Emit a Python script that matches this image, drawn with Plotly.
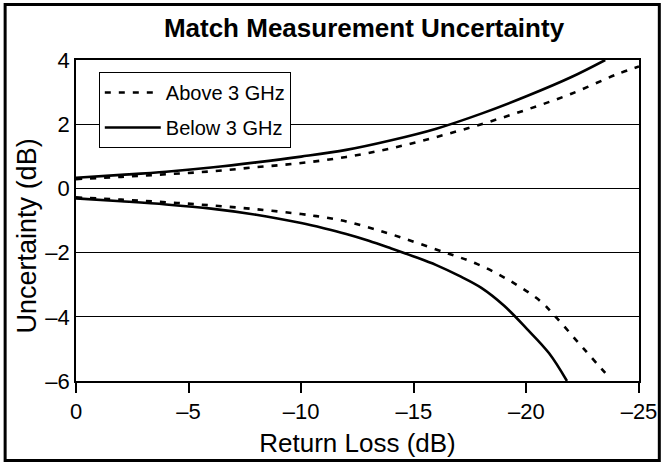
import plotly.graph_objects as go

# Return loss (dB) sample points and read-off uncertainty values (dB)
below_upper_x = [0, -2, -4, -6, -8, -10, -12, -14, -16, -18, -20, -22, -23.5]
below_upper_y = [0.33, 0.42, 0.52, 0.65, 0.81, 0.99, 1.2, 1.5, 1.86, 2.33, 2.87, 3.47, 4.0]

above_upper_x = [0, -2, -4, -6, -8, -10, -12, -14, -16, -18, -20, -22, -24, -25]
above_upper_y = [0.29, 0.36, 0.44, 0.53, 0.66, 0.79, 0.98, 1.25, 1.6, 2.0, 2.45, 2.95, 3.55, 3.8]

below_lower_x = [0, -2, -4, -6, -8, -10, -11, -12, -13, -14, -15, -16, -17, -18, -19, -20, -21, -21.8]
below_lower_y = [-0.31, -0.4, -0.5, -0.63, -0.82, -1.08, -1.24, -1.42, -1.63, -1.87, -2.12, -2.39, -2.72, -3.1, -3.65, -4.36, -5.13, -6.0]

above_lower_x = [0, -2, -4, -6, -8, -10, -11, -12, -13, -14, -16.4, -17.8, -19.25, -20.6, -21.3, -22.3, -23.5]
above_lower_y = [-0.28, -0.35, -0.43, -0.53, -0.65, -0.8, -0.9, -1.03, -1.22, -1.43, -2.0, -2.35, -2.87, -3.5, -4.0, -4.8, -5.75]

x_ticks = [0, -5, -10, -15, -20, -25]
x_tick_text = ["0", "\u20135", "\u201310", "\u201315", "\u201320", "\u201325"]
y_ticks = [4, 2, 0, -2, -4, -6]
y_tick_text = ["4", "2", "0", "\u20132", "\u20134", "\u20136"]

FONT = "Liberation Sans, Arial, sans-serif"
W, H = 669, 465
L, R, T, B = 76, 25, 60, 84
PW, PH = W - L - R, H - T - B

dash_style = dict(color="black", width=2.6, dash="6px,8px")
solid_style = dict(color="black", width=2.6)

fig = go.Figure()
fig.add_trace(go.Scatter(x=above_upper_x, y=above_upper_y, mode="lines", name="Above 3 GHz",
                         line=dict(shape="spline", **dash_style), legendgroup="a"))
fig.add_trace(go.Scatter(x=below_upper_x, y=below_upper_y, mode="lines", name="Below 3 GHz",
                         line=dict(shape="spline", **solid_style), legendgroup="b"))
fig.add_trace(go.Scatter(x=above_lower_x, y=above_lower_y, mode="lines", name="Above 3 GHz",
                         line=dict(shape="spline", **dash_style), legendgroup="a", showlegend=False))
fig.add_trace(go.Scatter(x=below_lower_x, y=below_lower_y, mode="lines", name="Below 3 GHz",
                         line=dict(shape="spline", **solid_style), legendgroup="b", showlegend=False))


def px_x(p):
    return (p - L) / PW


def px_y(p):
    return (H - B - p) / PH


# outer border around the whole figure
fig.add_shape(type="rect", xref="paper", yref="paper",
              x0=px_x(4.5), x1=px_x(664.5), y0=px_y(460.5), y1=px_y(4.5),
              line=dict(color="black", width=3), layer="above")

# y-axis title placed as annotation
fig.add_annotation(text="Uncertainty (dB)", xref="paper", yref="paper",
                   x=px_x(27), y=px_y(236), xanchor="center", yanchor="middle",
                   textangle=-90, showarrow=False, font=dict(size=27, family=FONT))

fig.update_layout(
    width=W, height=H,
    margin=dict(l=L, r=R, t=T, b=B),
    paper_bgcolor="white", plot_bgcolor="white",
    font=dict(family=FONT, color="black"),
    title=dict(text="<b>Match Measurement Uncertainty</b>", x=364 / W, xanchor="center",
               y=1 - 28 / H, yanchor="middle", font=dict(size=26, family=FONT)),
    showlegend=True,
    legend=dict(x=px_x(99), y=px_y(72), xanchor="left", yanchor="top",
                bordercolor="black", borderwidth=1, bgcolor="white",
                font=dict(size=20, family=FONT), tracegroupgap=6, itemwidth=56),
    xaxis=dict(range=[0, -25], tickvals=x_ticks, ticktext=x_tick_text,
               ticks="outside", ticklen=10, tickwidth=1.5, tickcolor="black",
               showline=True, linecolor="black", linewidth=1.5, mirror=True,
               showgrid=False, zeroline=False,
               tickfont=dict(size=22, family=FONT),
               title=dict(text="Return Loss (dB)", font=dict(size=26, family=FONT), standoff=11)),
    yaxis=dict(range=[-6, 4], tickvals=y_ticks, ticktext=y_tick_text,
               ticks="", showline=True, linecolor="black", linewidth=1.5, mirror=True,
               showgrid=True, gridcolor="black", gridwidth=1, zeroline=False,
               tickfont=dict(size=22, family=FONT)),
)

fig.write_html("out.html", config={"displayModeBar": False},
               post_script="document.body.style.margin='0px';")
